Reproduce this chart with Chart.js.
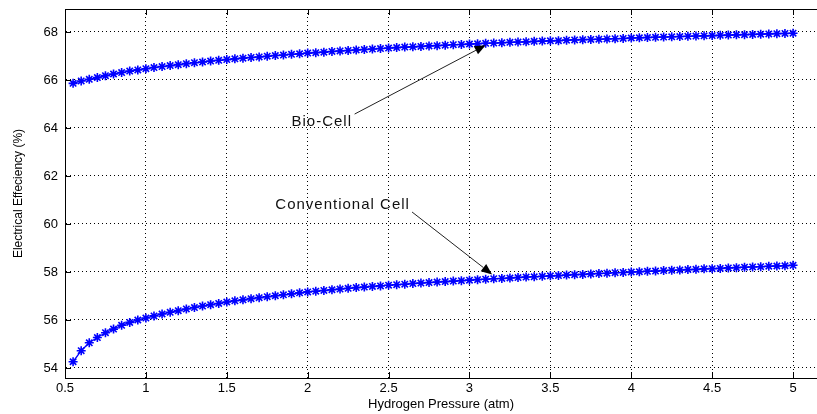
<!DOCTYPE html>
<html><head><meta charset="utf-8">
<script src="https://cdn.jsdelivr.net/npm/chart.js@4.4.0/dist/chart.umd.min.js"></script>
<style>html,body{margin:0;padding:0;background:#fff;overflow:hidden}#wrap{width:817px;height:414px;position:relative}</style>
</head><body><div id="wrap"><canvas id="c"></canvas></div>
<script>
// Hydrogen pressure (atm)
const pressure = [0.55,0.60,0.65,0.70,0.75,0.80,0.85,0.90,0.95,1.00,
1.05,1.10,1.15,1.20,1.25,1.30,1.35,1.40,1.45,1.50,
1.55,1.60,1.65,1.70,1.75,1.80,1.85,1.90,1.95,2.00,
2.05,2.10,2.15,2.20,2.25,2.30,2.35,2.40,2.45,2.50,
2.55,2.60,2.65,2.70,2.75,2.80,2.85,2.90,2.95,3.00,
3.05,3.10,3.15,3.20,3.25,3.30,3.35,3.40,3.45,3.50,
3.55,3.60,3.65,3.70,3.75,3.80,3.85,3.90,3.95,4.00,
4.05,4.10,4.15,4.20,4.25,4.30,4.35,4.40,4.45,4.50,
4.55,4.60,4.65,4.70,4.75,4.80,4.85,4.90,4.95,5.00];

// Electrical efficiency (%) - Bio-Cell
const bioCell = [65.86,65.96,66.03,66.10,66.18,66.25,66.31,66.37,66.42,66.47,
66.52,66.56,66.60,66.64,66.68,66.72,66.75,66.79,66.82,66.85,
66.88,66.91,66.94,66.96,66.99,67.02,67.04,67.07,67.09,67.12,
67.14,67.16,67.19,67.21,67.23,67.25,67.27,67.29,67.31,67.33,
67.35,67.37,67.38,67.40,67.42,67.43,67.45,67.47,67.48,67.50,
67.51,67.53,67.54,67.55,67.57,67.58,67.59,67.61,67.62,67.63,
67.64,67.66,67.67,67.68,67.69,67.70,67.71,67.72,67.73,67.75,
67.76,67.77,67.78,67.79,67.80,67.81,67.82,67.83,67.84,67.85,
67.86,67.87,67.88,67.89,67.90,67.91,67.92,67.93,67.94,67.95];

// Electrical efficiency (%) - Conventional Cell
const conventionalCell = [54.26,54.72,55.05,55.27,55.47,55.62,55.78,55.90,56.00,56.08,
56.17,56.25,56.32,56.39,56.46,56.52,56.58,56.64,56.69,56.75,
56.80,56.84,56.89,56.93,56.97,57.01,57.05,57.09,57.13,57.17,
57.20,57.23,57.26,57.29,57.32,57.35,57.37,57.40,57.42,57.45,
57.47,57.49,57.52,57.54,57.56,57.58,57.60,57.62,57.64,57.66,
57.68,57.70,57.72,57.73,57.75,57.77,57.79,57.80,57.82,57.84,
57.85,57.87,57.89,57.90,57.92,57.94,57.95,57.97,57.98,58.00,
58.01,58.03,58.04,58.06,58.07,58.08,58.10,58.11,58.13,58.14,
58.15,58.17,58.18,58.20,58.21,58.22,58.24,58.25,58.26,58.28];

const xTicks = [0.5,1,1.5,2,2.5,3,3.5,4,4.5,5];
const yTicks = [54,56,58,60,62,64,66,68];

const xTitle = 'Hydrogen Pressure (atm)';
const yTitle = 'Electrical Effeciency (%)';

// text annotations with arrows (data units)
const annotationLabels = ['Bio-Cell','Conventional Cell'];
const annotationTextPos = [[1.90,64.25],[1.80,60.79]];
const annotationArrowFrom = [[2.29,64.58],[2.645,60.50]];
const annotationArrowTo = [[3.10,67.45],[3.14,57.90]];

const FONT = '"Liberation Sans", Arial, Helvetica, sans-serif';
const BLUE = 'rgb(0,0,255)';

const toPts = (xs, ys) => xs.map((x, i) => ({x: x, y: ys[i]}));

const matlabAxes = {
  id: 'matlabAxes',
  afterDraw(chart) {
    const {ctx, chartArea: a, scales: {x, y}} = chart;
    ctx.save();
    // the axes box is cut off on the right in the original: no right edge line
    ctx.fillStyle = '#fff';
    ctx.fillRect(a.right - 2, a.top, 2, a.bottom - a.top + 1);
    ctx.strokeStyle = '#000';
    ctx.lineWidth = 1;
    ctx.setLineDash([]);
    ctx.beginPath();
    // top and bottom border
    ctx.moveTo(a.left, a.top + 0.5); ctx.lineTo(a.right, a.top + 0.5);
    ctx.moveTo(a.left, Math.round(a.bottom) + 0.5); ctx.lineTo(a.right, Math.round(a.bottom) + 0.5);
    xTicks.forEach(v => {
      const px = Math.round(x.getPixelForValue(v)) + 0.5;
      ctx.moveTo(px, a.bottom); ctx.lineTo(px, a.bottom - 6);
      ctx.moveTo(px, a.top); ctx.lineTo(px, a.top + 6);
    });
    yTicks.forEach(v => {
      const py = Math.round(y.getPixelForValue(v)) + 0.5;
      ctx.moveTo(a.left, py); ctx.lineTo(a.left + 6, py);
    });
    ctx.stroke();

    // annotations
    ctx.font = '15px ' + FONT;
    try { ctx.letterSpacing = '1px'; } catch (e) {}
    ctx.fillStyle = '#111';
    ctx.textBaseline = 'middle';
    ctx.textAlign = 'left';
    annotationLabels.forEach((t, i) => {
      const tx = x.getPixelForValue(annotationTextPos[i][0]);
      const ty = y.getPixelForValue(annotationTextPos[i][1]);
      ctx.fillText(t, tx, ty);
      const x0 = x.getPixelForValue(annotationArrowFrom[i][0]);
      const y0 = y.getPixelForValue(annotationArrowFrom[i][1]);
      const x1 = x.getPixelForValue(annotationArrowTo[i][0]);
      const y1 = y.getPixelForValue(annotationArrowTo[i][1]);
      const ang = Math.atan2(y1 - y0, x1 - x0);
      const L = 11, W = 4.5;
      const bx = x1 - L * Math.cos(ang), by = y1 - L * Math.sin(ang);
      ctx.strokeStyle = '#222';
      ctx.lineWidth = 1;
      ctx.beginPath();
      ctx.moveTo(x0, y0); ctx.lineTo(bx, by);
      ctx.stroke();
      ctx.fillStyle = '#000';
      ctx.beginPath();
      ctx.moveTo(x1, y1);
      ctx.lineTo(bx + W * Math.sin(ang), by - W * Math.cos(ang));
      ctx.lineTo(bx - W * Math.sin(ang), by + W * Math.cos(ang));
      ctx.closePath();
      ctx.fill();
      ctx.fillStyle = '#111';
    });
    ctx.restore();
  }
};

new Chart(document.getElementById('c'), {
  type: 'line',
  data: {
    datasets: [
      {label: 'Bio-Cell', data: toPts(pressure, bioCell), borderColor: BLUE, backgroundColor: BLUE,
       borderWidth: 1.3, pointStyle: 'star', pointRadius: 4.5, pointBorderWidth: 1.6, pointBorderColor: BLUE, tension: 0, fill: false},
      {label: 'Conventional Cell', data: toPts(pressure, conventionalCell), borderColor: BLUE, backgroundColor: BLUE,
       borderWidth: 1.3, pointStyle: 'star', pointRadius: 4.5, pointBorderWidth: 1.6, pointBorderColor: BLUE, tension: 0, fill: false}
    ]
  },
  options: {
    responsive: true,
    maintainAspectRatio: false,
    animation: false,
    layout: {autoPadding: false, padding: {top: 9, left: 0, right: 0, bottom: 0}},
    plugins: {legend: {display: false}, tooltip: {enabled: false}},
    scales: {
      x: {
        type: 'linear', min: 0.5, max: 5.148,
        afterBuildTicks: s => { s.ticks = xTicks.map(v => ({value: v})); },
        afterFit: s => { s.height = 36; s.paddingLeft = 0; s.paddingRight = 0; },
        ticks: {color: '#000', font: {family: FONT, size: 13}, padding: 3, maxRotation: 0, autoSkip: false,
                callback: v => String(v)},
        grid: {color: '#000', lineWidth: 1, drawTicks: false},
        border: {display: true, color: '#000', width: 1, dash: [1, 3]},
        title: {display: true, text: xTitle, color: '#000', font: {family: FONT, size: 13}, padding: {top: 0, bottom: 2}}
      },
      y: {
        type: 'linear', min: 53.583, max: 68.958,
        afterBuildTicks: s => { s.ticks = yTicks.map(v => ({value: v})); },
        afterFit: s => { s.width = 65; s.paddingTop = 0; s.paddingBottom = 0; },
        ticks: {color: '#000', font: {family: FONT, size: 13}, padding: 7, callback: v => String(v)},
        grid: {color: '#000', lineWidth: 1, drawTicks: false},
        border: {display: true, color: '#000', width: 1, dash: [1, 3]},
        title: {display: true, text: yTitle, color: '#000', font: {family: FONT, size: 12}, padding: {top: 11, bottom: 0}}
      }
    }
  },
  plugins: [matlabAxes]
});
</script>
</body></html>
